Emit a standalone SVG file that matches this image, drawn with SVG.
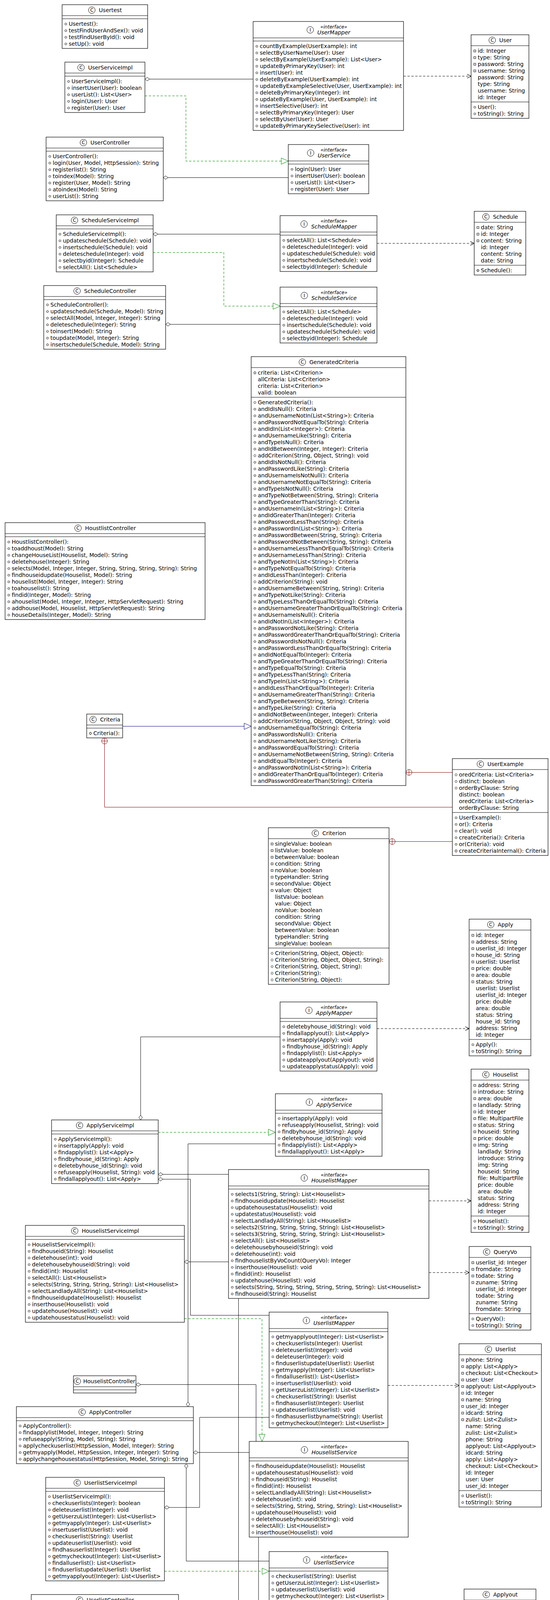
<svg xmlns="http://www.w3.org/2000/svg" width="1408" height="7329" viewBox="0 0 1408 7329">
<style>
text{font-family:"DejaVu Sans",Verdana,sans-serif;font-size:14px;fill:#000}
.b{fill:#fff;stroke:#000;stroke-width:1.2}
.l{stroke:#000;stroke-width:1.2;fill:none}
.ic{fill:#fff;stroke:#000;stroke-width:1}
.il{font-size:12px;text-anchor:middle}
.st{font-size:12px;font-style:italic;text-anchor:middle}
.nm{font-style:italic;text-anchor:middle}
.po{fill:none;stroke:none;marker-start:url(#mo);marker-mid:url(#mo);marker-end:url(#mo)}
.pp{fill:none;stroke:none;marker-start:url(#mp);marker-mid:url(#mp);marker-end:url(#mp)}
.pd{fill:none;stroke:none;marker-start:url(#md);marker-mid:url(#md);marker-end:url(#md)}
.ag{fill:none;stroke:#000;stroke-width:1;marker-start:url(#agg)}
.de{fill:none;stroke:#000;stroke-width:1;stroke-dasharray:6 4;marker-end:url(#dep)}
.re{fill:none;stroke:#008000;stroke-width:1;stroke-dasharray:6 4;marker-end:url(#real)}
.ge{fill:none;stroke:#000080;stroke-width:1;marker-end:url(#gen)}
.ne{fill:none;stroke:#800000;stroke-width:1;marker-start:url(#nest)}
</style>
<defs>
<marker id="mo" markerUnits="userSpaceOnUse" markerWidth="8" markerHeight="8" refX="4" refY="4" overflow="visible"><circle cx="4" cy="4" r="2.5" fill="none" stroke="#000" stroke-width="1"/></marker>
<marker id="mp" markerUnits="userSpaceOnUse" markerWidth="8" markerHeight="8" refX="4" refY="4" overflow="visible"><rect x="1.5" y="1.5" width="5" height="5" fill="none" stroke="#000" stroke-width="1"/></marker>
<marker id="md" markerUnits="userSpaceOnUse" markerWidth="8" markerHeight="8" refX="4" refY="4" overflow="visible"><path d="M4,0.5L7,4L4,7.5L1,4Z" fill="none" stroke="#000" stroke-width="1"/></marker>
<marker id="agg" markerUnits="userSpaceOnUse" markerWidth="14" markerHeight="10" refX="0" refY="5" orient="auto" overflow="visible"><path d="M0,5L6,0.5L12,5L6,9.5Z" fill="#fff" stroke="#000" stroke-width="1"/></marker>
<marker id="dep" markerUnits="userSpaceOnUse" markerWidth="12" markerHeight="12" refX="10" refY="5" orient="auto" overflow="visible"><path d="M0,0L10,5L0,10" fill="none" stroke="#000" stroke-width="1.2"/></marker>
<marker id="real" markerUnits="userSpaceOnUse" markerWidth="20" markerHeight="18" refX="18" refY="8" orient="auto" overflow="visible"><path d="M0,0L18,8L0,16Z" fill="#fff" stroke="#008000" stroke-width="1"/></marker>
<marker id="gen" markerUnits="userSpaceOnUse" markerWidth="20" markerHeight="18" refX="18" refY="8" orient="auto" overflow="visible"><path d="M0,0L18,8L0,16Z" fill="#fff" stroke="#000080" stroke-width="1"/></marker>
<marker id="nest" markerUnits="userSpaceOnUse" markerWidth="18" markerHeight="18" refX="0" refY="8" orient="auto" overflow="visible"><circle cx="8" cy="8" r="7.5" fill="#fff" stroke="#800000" stroke-width="1"/><path d="M0.5,8H15.5M8,0.5V15.5" stroke="#800000" stroke-width="1"/></marker>
</defs>
<rect width="1408" height="7329" fill="#fff"/>
<g id="connectors">
<path class="ag" d="M371,202.5H648"/>
<path class="ag" d="M418,454.7H738"/>
<path class="ag" d="M392,599.4H717"/>
<path class="ag" d="M424,830.3H717"/>
<path class="ag" d="M360,2867V2654.4H717"/>
<path class="ag" d="M405,3006.3H585"/>
<path class="ag" d="M405,3018.8H487.6V3367.2H689"/>
<path class="ag" d="M481.3,3601V2928.2H705"/>
<path class="ag" d="M472,3230.3H585"/>
<path class="ag" d="M348,3544.5H655.5V3690"/>
<path class="ag" d="M393,4298.5H610.6V3324"/>
<path class="ag" d="M421,3859.1H511V3628.4H689"/>
<path class="ag" d="M495,3718.3H638"/>
<path class="ag" d="M476.8,3747V3996.4H689"/>
<path class="ag" d="M495,4654.3H661.8V3935"/>
<path class="ag" d="M457,4132.5H689"/>
<path class="ag" d="M501,5645V4182.7H689"/>
<path class="ag" d="M393,4317H687"/>
<path class="ag" d="M393,4335H579.2V4473.5H711"/>
<path class="ag" d="M393,4372.7H564V4773.5H728"/>
<path class="ag" d="M393,4391.1H529V5307.4H699"/>
<path class="ag" d="M398,4501.3H711"/>
<path class="ag" d="M495,4685.7H717"/>
<path class="ag" d="M495,4725.3H722.9V4913"/>
<path class="ag" d="M495,4733.9H554V5066.2H728"/>
<path class="ag" d="M495,4742.5H505.6V5526.4H699"/>
<path class="ag" d="M381,4834.3H728"/>
<path class="ag" d="M495,4988.2H711"/>
<path class="ag" d="M413,5151.7H728"/>
<path class="ag" d="M411,5352.5H699"/>
<path class="ag" d="M472,5582.5H699"/>
<path class="ag" d="M514.5,5645V5623.3H699"/>
<path class="ag" d="M519,5825.6H723"/>
<path class="ag" d="M519,5851.5H718.4V5978"/>
<path class="ag" d="M517,5919.4H712V5636"/>
<path class="ag" d="M517,5927.2H723"/>
<path class="ag" d="M386,6182.3H535.2V5422.3H699"/>
<path class="ag" d="M386,6233.3H723"/>
<path class="ag" d="M397,6360V6275.2H723"/>
<path class="ag" d="M404,6421.5H707"/>
<path class="ag" d="M404,6789.4H717"/>
<path class="ag" d="M404,6865.4H712V6990"/>
<path class="re" d="M371,245.5H476V412.4H738"/>
<path class="re" d="M392,646.4H573V783.7H717"/>
<path class="re" d="M405,2898.8H705"/>
<path class="re" d="M472,3375.8H670.8V3690"/>
<path class="re" d="M421,4022.3H689"/>
<path class="re" d="M393,4354.2H568.4V4622.9H717"/>
<path class="re" d="M398,4528.4H560.3V4937.2H711"/>
<path class="re" d="M381,4895.2H549.6V5075.2H728"/>
<path class="re" d="M411,5387H485V5554.6H699"/>
<path class="re" d="M386,6186.2H538.8V5935H723"/>
<path class="re" d="M404,6712H544.2V6149.3H705"/>
<path class="re" d="M268.5,6489V6582.3H707"/>
<path class="de" d="M1033,195H1206"/>
<path class="de" d="M965,623H1214"/>
<path class="de" d="M965,2633.3H1201"/>
<path class="de" d="M1098,3074.2H1206"/>
<path class="de" d="M1098,3257.8H1201"/>
<path class="de" d="M993,3546.8H1175"/>
<path class="de" d="M995,4301.3H1188"/>
<path class="de" d="M971,4501.3H1201"/>
<path class="de" d="M954,4815.5H1195"/>
<path class="de" d="M984,5378H1199"/>
<path class="de" d="M959,6205.4H1201"/>
<path class="de" d="M977,6421.1H1201"/>
<path class="de" d="M964,6789.4H1201"/>
<path class="de" d="M977,7053.3H1201"/>
<path class="ge" d="M314,1859.3H643"/>
<path class="ne" d="M267.6,1889V2066.4H1158"/>
<path class="ne" d="M1039,1977.4H1158"/>
<path class="ne" d="M996,2154.3H1158"/>
</g>

<g id="Usertest" transform="translate(159,12)"><rect class="b" width="219" height="112"/><path class="l" d="M0,28H219M0,36H219"/><circle class="ic" cx="76.1" cy="14" r="8.5"/><text class="il" x="76.1" y="18.3">C</text><text x="94.1" y="19">Usertest</text>
<text y="54"><tspan x="17">Usertest():</tspan><tspan x="17" dy="17">testFindUserAndSex(): void</tspan><tspan x="17" dy="17">testFindUserById(): void</tspan><tspan x="17" dy="17">setUp(): void</tspan></text>
<polyline class="po" points="9.5,49.5 9.5,66.5 9.5,83.5 9.5,100.5"/></g>

<g id="UserServiceImpl" transform="translate(166,159)"><rect class="b" width="205" height="129"/><path class="l" d="M0,28H205M0,36H205"/><circle class="ic" cx="41.4" cy="14" r="8.5"/><text class="il" x="41.4" y="18.3">C</text><text x="59.4" y="19">UserServiceImpl</text>
<text y="54"><tspan x="17">UserServiceImpl():</tspan><tspan x="17" dy="17">insertUser(User): boolean</tspan><tspan x="17" dy="17">userList(): List&lt;User&gt;</tspan><tspan x="17" dy="17">login(User): User</tspan><tspan x="17" dy="17">register(User): User</tspan></text>
<polyline class="po" points="9.5,49.5 9.5,66.5 9.5,83.5 9.5,100.5 9.5,117.5"/></g>

<g id="UserMapper" transform="translate(648,55)"><rect class="b" width="385" height="279"/><path class="l" d="M0,42H385M0,50H385"/><circle class="ic" cx="146.2" cy="21.5" r="8.5"/><text class="il" x="146.2" y="25.8">I</text><text class="st" x="206.5" y="17.5">«interface»</text><text class="nm" x="206.5" y="33">UserMapper</text>
<text y="68"><tspan x="17">countByExample(UserExample): int</tspan><tspan x="17" dy="17">selectByUserName(User): User</tspan><tspan x="17" dy="17">selectByExample(UserExample): List&lt;User&gt;</tspan><tspan x="17" dy="17">updateByPrimaryKey(User): int</tspan><tspan x="17" dy="17">insert(User): int</tspan><tspan x="17" dy="17">deleteByExample(UserExample): int</tspan><tspan x="17" dy="17">updateByExampleSelective(User, UserExample): int</tspan><tspan x="17" dy="17">deleteByPrimaryKey(Integer): int</tspan><tspan x="17" dy="17">updateByExample(User, UserExample): int</tspan><tspan x="17" dy="17">insertSelective(User): int</tspan><tspan x="17" dy="17">selectByPrimaryKey(Integer): User</tspan><tspan x="17" dy="17">selectByUser(User): User</tspan><tspan x="17" dy="17">updateByPrimaryKeySelective(User): int</tspan></text>
<polyline class="po" points="9.5,63.5 9.5,80.5 9.5,97.5 9.5,114.5 9.5,131.5 9.5,148.5 9.5,165.5 9.5,182.5 9.5,199.5 9.5,216.5 9.5,233.5 9.5,250.5 9.5,267.5"/></g>

<g id="User" transform="translate(1206,89)"><rect class="b" width="148" height="214"/><path class="l" d="M0,28H148M0,172H148"/><circle class="ic" cx="54.1" cy="14" r="8.5"/><text class="il" x="54.1" y="18.3">C</text><text x="72.1" y="19">User</text>
<text y="46"><tspan x="17">id: Integer</tspan><tspan x="17" dy="17">type: String</tspan><tspan x="17" dy="17">password: String</tspan><tspan x="17" dy="17">username: String</tspan><tspan x="17" dy="17">password: String</tspan><tspan x="17" dy="17">type: String</tspan><tspan x="17" dy="17">username: String</tspan><tspan x="17" dy="17">id: Integer</tspan></text>
<polyline class="pp" points="9.5,41.5 9.5,58.5 9.5,75.5 9.5,92.5"/>
<text y="190"><tspan x="17">User():</tspan><tspan x="17" dy="17">toString(): String</tspan></text>
<polyline class="po" points="9.5,185.5 9.5,202.5"/></g>

<g id="UserController" transform="translate(118,351)"><rect class="b" width="300" height="163"/><path class="l" d="M0,28H300M0,36H300"/><circle class="ic" cx="95.5" cy="14" r="8.5"/><text class="il" x="95.5" y="18.3">C</text><text x="113.5" y="19">UserController</text>
<text y="54"><tspan x="17">UserController():</tspan><tspan x="17" dy="17">login(User, Model, HttpSession): String</tspan><tspan x="17" dy="17">registerlist(): String</tspan><tspan x="17" dy="17">toindex(Model): String</tspan><tspan x="17" dy="17">register(User, Model): String</tspan><tspan x="17" dy="17">atoindex(Model): String</tspan><tspan x="17" dy="17">userList(): String</tspan></text>
<polyline class="po" points="9.5,49.5 9.5,66.5 9.5,83.5 9.5,100.5 9.5,117.5 9.5,134.5 9.5,151.5"/></g>

<g id="UserService" transform="translate(738,370)"><rect class="b" width="206" height="126"/><path class="l" d="M0,42H206M0,50H206"/><circle class="ic" cx="57.2" cy="21.5" r="8.5"/><text class="il" x="57.2" y="25.8">I</text><text class="st" x="117" y="17.5">«interface»</text><text class="nm" x="117" y="33">UserService</text>
<text y="68"><tspan x="17">login(User): User</tspan><tspan x="17" dy="17">insertUser(User): boolean</tspan><tspan x="17" dy="17">userList(): List&lt;User&gt;</tspan><tspan x="17" dy="17">register(User): User</tspan></text>
<polyline class="po" points="9.5,63.5 9.5,80.5 9.5,97.5 9.5,114.5"/></g>

<g id="ScheduleServiceImpl" transform="translate(144,550)"><rect class="b" width="248" height="146"/><path class="l" d="M0,28H248M0,36H248"/><circle class="ic" cx="46.7" cy="14" r="8.5"/><text class="il" x="46.7" y="18.3">C</text><text x="64.7" y="19">ScheduleServiceImpl</text>
<text y="54"><tspan x="17">ScheduleServiceImpl():</tspan><tspan x="17" dy="17">updateschedule(Schedule): void</tspan><tspan x="17" dy="17">insertschedule(Schedule): void</tspan><tspan x="17" dy="17">deleteschedule(Integer): void</tspan><tspan x="17" dy="17">selectbyid(Integer): Schedule</tspan><tspan x="17" dy="17">selectAll(): List&lt;Schedule&gt;</tspan></text>
<polyline class="po" points="9.5,49.5 9.5,66.5 9.5,83.5 9.5,100.5 9.5,117.5 9.5,134.5"/></g>

<g id="ScheduleMapper" transform="translate(717,552)"><rect class="b" width="248" height="143"/><path class="l" d="M0,42H248M0,50H248"/><circle class="ic" cx="61.4" cy="21.5" r="8.5"/><text class="il" x="61.4" y="25.8">I</text><text class="st" x="138" y="17.5">«interface»</text><text class="nm" x="138" y="33">ScheduleMapper</text>
<text y="68"><tspan x="17">selectAll(): List&lt;Schedule&gt;</tspan><tspan x="17" dy="17">deleteschedule(Integer): void</tspan><tspan x="17" dy="17">updateschedule(Schedule): void</tspan><tspan x="17" dy="17">insertschedule(Schedule): void</tspan><tspan x="17" dy="17">selectbyid(Integer): Schedule</tspan></text>
<polyline class="po" points="9.5,63.5 9.5,80.5 9.5,97.5 9.5,114.5 9.5,131.5"/></g>

<g id="Schedule" transform="translate(1214,541)"><rect class="b" width="132" height="163"/><path class="l" d="M0,28H132M0,138H132"/><circle class="ic" cx="29.9" cy="14" r="8.5"/><text class="il" x="29.9" y="18.3">C</text><text x="47.9" y="19">Schedule</text>
<text y="46"><tspan x="17">date: String</tspan><tspan x="17" dy="17">id: Integer</tspan><tspan x="17" dy="17">content: String</tspan><tspan x="17" dy="17">id: Integer</tspan><tspan x="17" dy="17">content: String</tspan><tspan x="17" dy="17">date: String</tspan></text>
<polyline class="pp" points="9.5,41.5 9.5,58.5 9.5,75.5"/>
<text x="17" y="156">Schedule():</text>
<polyline class="po" points="9.5,151.5 9.5,151.5"/></g>

<g id="ScheduleController" transform="translate(112,731)"><rect class="b" width="312" height="163"/><path class="l" d="M0,28H312M0,36H312"/><circle class="ic" cx="85.3" cy="14" r="8.5"/><text class="il" x="85.3" y="18.3">C</text><text x="103.3" y="19">ScheduleController</text>
<text y="54"><tspan x="17">ScheduleController():</tspan><tspan x="17" dy="17">updateschedule(Schedule, Model): String</tspan><tspan x="17" dy="17">selectAll(Model, Integer, Integer): String</tspan><tspan x="17" dy="17">deleteschedule(Integer): String</tspan><tspan x="17" dy="17">toinsert(Model): String</tspan><tspan x="17" dy="17">toupdate(Model, Integer): String</tspan><tspan x="17" dy="17">insertschedule(Schedule, Model): String</tspan></text>
<polyline class="po" points="9.5,49.5 9.5,66.5 9.5,83.5 9.5,100.5 9.5,117.5 9.5,134.5 9.5,151.5"/></g>

<g id="ScheduleService" transform="translate(717,735)"><rect class="b" width="248" height="143"/><path class="l" d="M0,42H248M0,50H248"/><circle class="ic" cx="62" cy="21.5" r="8.5"/><text class="il" x="62" y="25.8">I</text><text class="st" x="138" y="17.5">«interface»</text><text class="nm" x="138" y="33">ScheduleService</text>
<text y="68"><tspan x="17">selectAll(): List&lt;Schedule&gt;</tspan><tspan x="17" dy="17">deleteschedule(Integer): void</tspan><tspan x="17" dy="17">insertschedule(Schedule): void</tspan><tspan x="17" dy="17">updateschedule(Schedule): void</tspan><tspan x="17" dy="17">selectbyid(Integer): Schedule</tspan></text>
<polyline class="po" points="9.5,63.5 9.5,80.5 9.5,97.5 9.5,114.5 9.5,131.5"/></g>

<g id="GeneratedCriteria" transform="translate(643,913)"><rect class="b" width="396" height="1098"/><path class="l" d="M0,28H396M0,104H396"/><circle class="ic" cx="131" cy="14" r="8.5"/><text class="il" x="131" y="18.3">C</text><text x="149" y="19">GeneratedCriteria</text>
<text y="46"><tspan x="17">criteria: List&lt;Criterion&gt;</tspan><tspan x="17" dy="17">allCriteria: List&lt;Criterion&gt;</tspan><tspan x="17" dy="17">criteria: List&lt;Criterion&gt;</tspan><tspan x="17" dy="17">valid: boolean</tspan></text>
<polyline class="pd" points="9.5,41.5 9.5,41.5"/>
<text y="122"><tspan x="17">GeneratedCriteria():</tspan><tspan x="17" dy="17">andIdIsNull(): Criteria</tspan><tspan x="17" dy="17">andUsernameNotIn(List&lt;String&gt;): Criteria</tspan><tspan x="17" dy="17">andPasswordNotEqualTo(String): Criteria</tspan><tspan x="17" dy="17">andIdIn(List&lt;Integer&gt;): Criteria</tspan><tspan x="17" dy="17">andUsernameLike(String): Criteria</tspan><tspan x="17" dy="17">andTypeIsNull(): Criteria</tspan><tspan x="17" dy="17">andIdBetween(Integer, Integer): Criteria</tspan><tspan x="17" dy="17">addCriterion(String, Object, String): void</tspan><tspan x="17" dy="17">andIdIsNotNull(): Criteria</tspan><tspan x="17" dy="17">andPasswordLike(String): Criteria</tspan><tspan x="17" dy="17">andUsernameIsNotNull(): Criteria</tspan><tspan x="17" dy="17">andUsernameNotEqualTo(String): Criteria</tspan><tspan x="17" dy="17">andTypeIsNotNull(): Criteria</tspan><tspan x="17" dy="17">andTypeNotBetween(String, String): Criteria</tspan><tspan x="17" dy="17">andTypeGreaterThan(String): Criteria</tspan><tspan x="17" dy="17">andUsernameIn(List&lt;String&gt;): Criteria</tspan><tspan x="17" dy="17">andIdGreaterThan(Integer): Criteria</tspan><tspan x="17" dy="17">andPasswordLessThan(String): Criteria</tspan><tspan x="17" dy="17">andPasswordIn(List&lt;String&gt;): Criteria</tspan><tspan x="17" dy="17">andPasswordBetween(String, String): Criteria</tspan><tspan x="17" dy="17">andPasswordNotBetween(String, String): Criteria</tspan><tspan x="17" dy="17">andUsernameLessThanOrEqualTo(String): Criteria</tspan><tspan x="17" dy="17">andUsernameLessThan(String): Criteria</tspan><tspan x="17" dy="17">andTypeNotIn(List&lt;String&gt;): Criteria</tspan><tspan x="17" dy="17">andTypeNotEqualTo(String): Criteria</tspan><tspan x="17" dy="17">andIdLessThan(Integer): Criteria</tspan><tspan x="17" dy="17">addCriterion(String): void</tspan><tspan x="17" dy="17">andUsernameBetween(String, String): Criteria</tspan><tspan x="17" dy="17">andTypeNotLike(String): Criteria</tspan><tspan x="17" dy="17">andTypeLessThanOrEqualTo(String): Criteria</tspan><tspan x="17" dy="17">andUsernameGreaterThanOrEqualTo(String): Criteria</tspan><tspan x="17" dy="17">andUsernameIsNull(): Criteria</tspan><tspan x="17" dy="17">andIdNotIn(List&lt;Integer&gt;): Criteria</tspan><tspan x="17" dy="17">andPasswordNotLike(String): Criteria</tspan><tspan x="17" dy="17">andPasswordGreaterThanOrEqualTo(String): Criteria</tspan><tspan x="17" dy="17">andPasswordIsNotNull(): Criteria</tspan><tspan x="17" dy="17">andPasswordLessThanOrEqualTo(String): Criteria</tspan><tspan x="17" dy="17">andIdNotEqualTo(Integer): Criteria</tspan><tspan x="17" dy="17">andTypeGreaterThanOrEqualTo(String): Criteria</tspan><tspan x="17" dy="17">andTypeEqualTo(String): Criteria</tspan><tspan x="17" dy="17">andTypeLessThan(String): Criteria</tspan><tspan x="17" dy="17">andTypeIn(List&lt;String&gt;): Criteria</tspan><tspan x="17" dy="17">andIdLessThanOrEqualTo(Integer): Criteria</tspan><tspan x="17" dy="17">andUsernameGreaterThan(String): Criteria</tspan><tspan x="17" dy="17">andTypeBetween(String, String): Criteria</tspan><tspan x="17" dy="17">andTypeLike(String): Criteria</tspan><tspan x="17" dy="17">andIdNotBetween(Integer, Integer): Criteria</tspan><tspan x="17" dy="17">addCriterion(String, Object, Object, String): void</tspan><tspan x="17" dy="17">andUsernameEqualTo(String): Criteria</tspan><tspan x="17" dy="17">andPasswordIsNull(): Criteria</tspan><tspan x="17" dy="17">andUsernameNotLike(String): Criteria</tspan><tspan x="17" dy="17">andPasswordEqualTo(String): Criteria</tspan><tspan x="17" dy="17">andUsernameNotBetween(String, String): Criteria</tspan><tspan x="17" dy="17">andIdEqualTo(Integer): Criteria</tspan><tspan x="17" dy="17">andPasswordNotIn(List&lt;String&gt;): Criteria</tspan><tspan x="17" dy="17">andIdGreaterThanOrEqualTo(Integer): Criteria</tspan><tspan x="17" dy="17">andPasswordGreaterThan(String): Criteria</tspan></text>
<polyline class="pd" points="9.5,117.5 9.5,253.5 9.5,576.5 9.5,933.5"/>
<polyline class="po" points="9.5,134.5 9.5,151.5 9.5,168.5 9.5,185.5 9.5,202.5 9.5,219.5 9.5,236.5 9.5,270.5 9.5,287.5 9.5,304.5 9.5,321.5 9.5,338.5 9.5,355.5 9.5,372.5 9.5,389.5 9.5,406.5 9.5,423.5 9.5,440.5 9.5,457.5 9.5,474.5 9.5,491.5 9.5,508.5 9.5,525.5 9.5,542.5 9.5,559.5 9.5,593.5 9.5,610.5 9.5,627.5 9.5,644.5 9.5,661.5 9.5,678.5 9.5,695.5 9.5,712.5 9.5,729.5 9.5,746.5 9.5,763.5 9.5,780.5 9.5,797.5 9.5,814.5 9.5,831.5 9.5,848.5 9.5,865.5 9.5,882.5 9.5,899.5 9.5,916.5 9.5,950.5 9.5,967.5 9.5,984.5 9.5,1001.5 9.5,1018.5 9.5,1035.5 9.5,1052.5 9.5,1069.5 9.5,1086.5"/></g>

<g id="HoustlistController" transform="translate(13,1338)"><rect class="b" width="512" height="248"/><path class="l" d="M0,28H512M0,36H512"/><circle class="ic" cx="186.8" cy="14" r="8.5"/><text class="il" x="186.8" y="18.3">C</text><text x="204.8" y="19">HoustlistController</text>
<text y="54"><tspan x="17">HoustlistController():</tspan><tspan x="17" dy="17">toaddhoust(Model): String</tspan><tspan x="17" dy="17">changeHouseList(Houselist, Model): String</tspan><tspan x="17" dy="17">deletehouse(Integer): String</tspan><tspan x="17" dy="17">selects(Model, Integer, Integer, String, String, String, String): String</tspan><tspan x="17" dy="17">findhouseidupdate(Houselist, Model): String</tspan><tspan x="17" dy="17">houselist(Model, Integer, Integer): String</tspan><tspan x="17" dy="17">toahouselist(): String</tspan><tspan x="17" dy="17">findid(Integer, Model): String</tspan><tspan x="17" dy="17">ahouselist(Model, Integer, Integer, HttpServletRequest): String</tspan><tspan x="17" dy="17">addhouse(Model, Houselist, HttpServletRequest): String</tspan><tspan x="17" dy="17">houseDetails(Integer, Model): String</tspan></text>
<polyline class="po" points="9.5,49.5 9.5,66.5 9.5,83.5 9.5,100.5 9.5,117.5 9.5,134.5 9.5,151.5 9.5,168.5 9.5,185.5 9.5,202.5 9.5,219.5 9.5,236.5"/></g>

<g id="Criteria" transform="translate(222,1828)"><rect class="b" width="92" height="61"/><path class="l" d="M0,28H92M0,36H92"/><circle class="ic" cx="16.2" cy="14" r="8.5"/><text class="il" x="16.2" y="18.3">C</text><text x="34.2" y="19">Criteria</text>
<text x="17" y="54">Criteria():</text>
<polyline class="pd" points="9.5,49.5 9.5,49.5"/></g>

<g id="UserExample" transform="translate(1158,1942)"><rect class="b" width="245" height="248"/><path class="l" d="M0,28H245M0,138H245"/><circle class="ic" cx="71.7" cy="14" r="8.5"/><text class="il" x="71.7" y="18.3">C</text><text x="89.7" y="19">UserExample</text>
<text y="46"><tspan x="17">oredCriteria: List&lt;Criteria&gt;</tspan><tspan x="17" dy="17">distinct: boolean</tspan><tspan x="17" dy="17">orderByClause: String</tspan><tspan x="17" dy="17">distinct: boolean</tspan><tspan x="17" dy="17">oredCriteria: List&lt;Criteria&gt;</tspan><tspan x="17" dy="17">orderByClause: String</tspan></text>
<polyline class="pd" points="9.5,41.5 9.5,58.5 9.5,75.5"/>
<text y="156"><tspan x="17">UserExample():</tspan><tspan x="17" dy="17">or(): Criteria</tspan><tspan x="17" dy="17">clear(): void</tspan><tspan x="17" dy="17">createCriteria(): Criteria</tspan><tspan x="17" dy="17">or(Criteria): void</tspan><tspan x="17" dy="17">createCriteriaInternal(): Criteria</tspan></text>
<polyline class="po" points="9.5,151.5 9.5,168.5 9.5,185.5 9.5,202.5 9.5,219.5"/>
<polyline class="pd" points="9.5,236.5 9.5,236.5"/></g>

<g id="Criterion" transform="translate(687,2119)"><rect class="b" width="309" height="401"/><path class="l" d="M0,28H309M0,308H309"/><circle class="ic" cx="120.2" cy="14" r="8.5"/><text class="il" x="120.2" y="18.3">C</text><text x="138.2" y="19">Criterion</text>
<text y="46"><tspan x="17">singleValue: boolean</tspan><tspan x="17" dy="17">listValue: boolean</tspan><tspan x="17" dy="17">betweenValue: boolean</tspan><tspan x="17" dy="17">condition: String</tspan><tspan x="17" dy="17">noValue: boolean</tspan><tspan x="17" dy="17">typeHandler: String</tspan><tspan x="17" dy="17">secondValue: Object</tspan><tspan x="17" dy="17">value: Object</tspan><tspan x="17" dy="17">listValue: boolean</tspan><tspan x="17" dy="17">value: Object</tspan><tspan x="17" dy="17">noValue: boolean</tspan><tspan x="17" dy="17">condition: String</tspan><tspan x="17" dy="17">secondValue: Object</tspan><tspan x="17" dy="17">betweenValue: boolean</tspan><tspan x="17" dy="17">typeHandler: String</tspan><tspan x="17" dy="17">singleValue: boolean</tspan></text>
<polyline class="pp" points="9.5,41.5 9.5,58.5 9.5,75.5 9.5,92.5 9.5,109.5 9.5,126.5 9.5,143.5 9.5,160.5"/>
<text y="326"><tspan x="17">Criterion(String, Object, Object):</tspan><tspan x="17" dy="17">Criterion(String, Object, Object, String):</tspan><tspan x="17" dy="17">Criterion(String, Object, String):</tspan><tspan x="17" dy="17">Criterion(String):</tspan><tspan x="17" dy="17">Criterion(String, Object):</tspan></text>
<polyline class="pd" points="9.5,321.5 9.5,338.5 9.5,355.5 9.5,372.5 9.5,389.5"/></g>

<g id="Apply" transform="translate(1201,2353)"><rect class="b" width="158" height="350"/><path class="l" d="M0,28H158M0,308H158"/><circle class="ic" cx="55.3" cy="14" r="8.5"/><text class="il" x="55.3" y="18.3">C</text><text x="73.3" y="19">Apply</text>
<text y="46"><tspan x="17">id: Integer</tspan><tspan x="17" dy="17">address: String</tspan><tspan x="17" dy="17">userlist_id: Integer</tspan><tspan x="17" dy="17">house_id: String</tspan><tspan x="17" dy="17">userlist: Userlist</tspan><tspan x="17" dy="17">price: double</tspan><tspan x="17" dy="17">area: double</tspan><tspan x="17" dy="17">status: String</tspan><tspan x="17" dy="17">userlist: Userlist</tspan><tspan x="17" dy="17">userlist_id: Integer</tspan><tspan x="17" dy="17">price: double</tspan><tspan x="17" dy="17">area: double</tspan><tspan x="17" dy="17">status: String</tspan><tspan x="17" dy="17">house_id: String</tspan><tspan x="17" dy="17">address: String</tspan><tspan x="17" dy="17">id: Integer</tspan></text>
<polyline class="pp" points="9.5,41.5 9.5,58.5 9.5,75.5 9.5,92.5 9.5,109.5 9.5,126.5 9.5,143.5 9.5,160.5"/>
<text y="326"><tspan x="17">Apply():</tspan><tspan x="17" dy="17">toString(): String</tspan></text>
<polyline class="po" points="9.5,321.5 9.5,338.5"/></g>

<g id="ApplyMapper" transform="translate(717,2565)"><rect class="b" width="248" height="177"/><path class="l" d="M0,42H248M0,50H248"/><circle class="ic" cx="73.9" cy="21.5" r="8.5"/><text class="il" x="73.9" y="25.8">I</text><text class="st" x="138" y="17.5">«interface»</text><text class="nm" x="138" y="33">ApplyMapper</text>
<text y="68"><tspan x="17">deletebyhouse_id(String): void</tspan><tspan x="17" dy="17">findallapplyout(): List&lt;Apply&gt;</tspan><tspan x="17" dy="17">insertapply(Apply): void</tspan><tspan x="17" dy="17">findbyhouse_id(String): Apply</tspan><tspan x="17" dy="17">findapplylist(): List&lt;Apply&gt;</tspan><tspan x="17" dy="17">updateapplyout(Applyout): void</tspan><tspan x="17" dy="17">updateapplystatus(Apply): void</tspan></text>
<polyline class="po" points="9.5,63.5 9.5,80.5 9.5,97.5 9.5,114.5 9.5,131.5 9.5,148.5 9.5,165.5"/></g>

<g id="ApplyService" transform="translate(705,2800)"><rect class="b" width="273" height="160"/><path class="l" d="M0,42H273M0,50H273"/><circle class="ic" cx="86.9" cy="21.5" r="8.5"/><text class="il" x="86.9" y="25.8">I</text><text class="st" x="150.5" y="17.5">«interface»</text><text class="nm" x="150.5" y="33">ApplyService</text>
<text y="68"><tspan x="17">insertapply(Apply): void</tspan><tspan x="17" dy="17">refuseapply(Houselist, String): void</tspan><tspan x="17" dy="17">findbyhouse_id(String): Apply</tspan><tspan x="17" dy="17">deletebyhouse_id(String): void</tspan><tspan x="17" dy="17">findapplylist(): List&lt;Apply&gt;</tspan><tspan x="17" dy="17">findallapplyout(): List&lt;Apply&gt;</tspan></text>
<polyline class="po" points="9.5,63.5 9.5,80.5 9.5,97.5 9.5,114.5 9.5,131.5 9.5,148.5"/></g>

<g id="ApplyServiceImpl" transform="translate(132,2867)"><rect class="b" width="273" height="163"/><path class="l" d="M0,28H273M0,36H273"/><circle class="ic" cx="71.6" cy="14" r="8.5"/><text class="il" x="71.6" y="18.3">C</text><text x="89.6" y="19">ApplyServiceImpl</text>
<text y="54"><tspan x="17">ApplyServiceImpl():</tspan><tspan x="17" dy="17">insertapply(Apply): void</tspan><tspan x="17" dy="17">findapplylist(): List&lt;Apply&gt;</tspan><tspan x="17" dy="17">findbyhouse_id(String): Apply</tspan><tspan x="17" dy="17">deletebyhouse_id(String): void</tspan><tspan x="17" dy="17">refuseapply(Houselist, String): void</tspan><tspan x="17" dy="17">findallapplyout(): List&lt;Apply&gt;</tspan></text>
<polyline class="po" points="9.5,49.5 9.5,66.5 9.5,83.5 9.5,100.5 9.5,117.5 9.5,134.5 9.5,151.5"/></g>

<g id="HouselistMapper" transform="translate(585,2994)"><rect class="b" width="513" height="330"/><path class="l" d="M0,42H513M0,50H513"/><circle class="ic" cx="193.9" cy="21.5" r="8.5"/><text class="il" x="193.9" y="25.8">I</text><text class="st" x="270.5" y="17.5">«interface»</text><text class="nm" x="270.5" y="33">HouselistMapper</text>
<text y="68"><tspan x="17">selects1(String, String): List&lt;Houselist&gt;</tspan><tspan x="17" dy="17">findhouseidupdate(Houselist): Houselist</tspan><tspan x="17" dy="17">updatehousestatus(Houselist): void</tspan><tspan x="17" dy="17">updatestatus(Houselist): void</tspan><tspan x="17" dy="17">selectLandladyAll(String): List&lt;Houselist&gt;</tspan><tspan x="17" dy="17">selects2(String, String, String, String): List&lt;Houselist&gt;</tspan><tspan x="17" dy="17">selects3(String, String, String, String): List&lt;Houselist&gt;</tspan><tspan x="17" dy="17">selectAll(): List&lt;Houselist&gt;</tspan><tspan x="17" dy="17">deletehousebyhouseid(String): void</tspan><tspan x="17" dy="17">deletehouse(int): void</tspan><tspan x="17" dy="17">findhouselistByVoCount(QueryVo): Integer</tspan><tspan x="17" dy="17">inserthouse(Houselist): void</tspan><tspan x="17" dy="17">findid(int): Houselist</tspan><tspan x="17" dy="17">updatehouse(Houselist): void</tspan><tspan x="17" dy="17">selects(String, String, String, String, String, String): List&lt;Houselist&gt;</tspan><tspan x="17" dy="17">findhouseid(String): Houselist</tspan></text>
<polyline class="po" points="9.5,63.5 9.5,80.5 9.5,97.5 9.5,114.5 9.5,131.5 9.5,148.5 9.5,165.5 9.5,182.5 9.5,199.5 9.5,216.5 9.5,233.5 9.5,250.5 9.5,267.5 9.5,284.5 9.5,301.5 9.5,318.5"/></g>

<g id="Houselist" transform="translate(1206,2737)"><rect class="b" width="148" height="418"/><path class="l" d="M0,28H148M0,376H148"/><circle class="ic" cx="37.8" cy="14" r="8.5"/><text class="il" x="37.8" y="18.3">C</text><text x="55.8" y="19">Houselist</text>
<text y="46"><tspan x="17">address: String</tspan><tspan x="17" dy="17">introduce: String</tspan><tspan x="17" dy="17">area: double</tspan><tspan x="17" dy="17">landlady: String</tspan><tspan x="17" dy="17">id: Integer</tspan><tspan x="17" dy="17">file: MultipartFile</tspan><tspan x="17" dy="17">status: String</tspan><tspan x="17" dy="17">houseid: String</tspan><tspan x="17" dy="17">price: double</tspan><tspan x="17" dy="17">img: String</tspan><tspan x="17" dy="17">landlady: String</tspan><tspan x="17" dy="17">introduce: String</tspan><tspan x="17" dy="17">img: String</tspan><tspan x="17" dy="17">houseid: String</tspan><tspan x="17" dy="17">file: MultipartFile</tspan><tspan x="17" dy="17">price: double</tspan><tspan x="17" dy="17">area: double</tspan><tspan x="17" dy="17">status: String</tspan><tspan x="17" dy="17">address: String</tspan><tspan x="17" dy="17">id: Integer</tspan></text>
<polyline class="pp" points="9.5,41.5 9.5,58.5 9.5,75.5 9.5,92.5 9.5,109.5 9.5,126.5 9.5,143.5 9.5,160.5 9.5,177.5 9.5,194.5"/>
<text y="394"><tspan x="17">Houselist():</tspan><tspan x="17" dy="17">toString(): String</tspan></text>
<polyline class="po" points="9.5,389.5 9.5,406.5"/></g>

<g id="QueryVo" transform="translate(1201,3191)"><rect class="b" width="158" height="214"/><path class="l" d="M0,28H158M0,172H158"/><circle class="ic" cx="44.7" cy="14" r="8.5"/><text class="il" x="44.7" y="18.3">C</text><text x="62.7" y="19">QueryVo</text>
<text y="46"><tspan x="17">userlist_id: Integer</tspan><tspan x="17" dy="17">fromdate: String</tspan><tspan x="17" dy="17">todate: String</tspan><tspan x="17" dy="17">zuname: String</tspan><tspan x="17" dy="17">userlist_id: Integer</tspan><tspan x="17" dy="17">todate: String</tspan><tspan x="17" dy="17">zuname: String</tspan><tspan x="17" dy="17">fromdate: String</tspan></text>
<polyline class="pp" points="9.5,41.5 9.5,58.5 9.5,75.5 9.5,92.5"/>
<text y="190"><tspan x="17">QueryVo():</tspan><tspan x="17" dy="17">toString(): String</tspan></text>
<polyline class="po" points="9.5,185.5 9.5,202.5"/></g>

<g id="HouselistServiceImpl" transform="translate(65,3137)"><rect class="b" width="407" height="248"/><path class="l" d="M0,28H407M0,36H407"/><circle class="ic" cx="126.2" cy="14" r="8.5"/><text class="il" x="126.2" y="18.3">C</text><text x="144.2" y="19">HouselistServiceImpl</text>
<text y="54"><tspan x="17">HouselistServiceImpl():</tspan><tspan x="17" dy="17">findhouseid(String): Houselist</tspan><tspan x="17" dy="17">deletehouse(int): void</tspan><tspan x="17" dy="17">deletehousebyhouseid(String): void</tspan><tspan x="17" dy="17">findid(int): Houselist</tspan><tspan x="17" dy="17">selectAll(): List&lt;Houselist&gt;</tspan><tspan x="17" dy="17">selects(String, String, String, String): List&lt;Houselist&gt;</tspan><tspan x="17" dy="17">selectLandladyAll(String): List&lt;Houselist&gt;</tspan><tspan x="17" dy="17">findhouseidupdate(Houselist): Houselist</tspan><tspan x="17" dy="17">inserthouse(Houselist): void</tspan><tspan x="17" dy="17">updatehouse(Houselist): void</tspan><tspan x="17" dy="17">updatehousestatus(Houselist): void</tspan></text>
<polyline class="po" points="9.5,49.5 9.5,66.5 9.5,83.5 9.5,100.5 9.5,117.5 9.5,134.5 9.5,151.5 9.5,168.5 9.5,185.5 9.5,202.5 9.5,219.5 9.5,236.5"/></g>

<g id="HouselistController" transform="translate(188,3522)"><rect class="b" width="160" height="44"/><path class="l" d="M0,28H160M0,36H160"/><circle class="ic" cx="10" cy="14" r="8.5"/><text class="il" x="10" y="18.3">C</text><text x="25" y="19">HouselistController</text></g>

<g id="UserlistMapper" transform="translate(689,3359)"><rect class="b" width="304" height="296"/><path class="l" d="M0,42H304M0,50H304"/><circle class="ic" cx="95.4" cy="21.5" r="8.5"/><text class="il" x="95.4" y="25.8">I</text><text class="st" x="166" y="17.5">«interface»</text><text class="nm" x="166" y="33">UserlistMapper</text>
<text y="68"><tspan x="17">getmyapplyout(Integer): List&lt;Userlist&gt;</tspan><tspan x="17" dy="17">checkuserlists(Integer): Userlist</tspan><tspan x="17" dy="17">deleteuserlist(Integer): void</tspan><tspan x="17" dy="17">deleteuser(Integer): void</tspan><tspan x="17" dy="17">finduserlistupdate(Userlist): Userlist</tspan><tspan x="17" dy="17">getmyapply(Integer): List&lt;Userlist&gt;</tspan><tspan x="17" dy="17">findalluserlist(): List&lt;Userlist&gt;</tspan><tspan x="17" dy="17">insertuserlist(Userlist): void</tspan><tspan x="17" dy="17">getUserzuList(Integer): List&lt;Userlist&gt;</tspan><tspan x="17" dy="17">checkuserlist(String): Userlist</tspan><tspan x="17" dy="17">findhasuserlist(Integer): Userlist</tspan><tspan x="17" dy="17">updateuserlist(Userlist): void</tspan><tspan x="17" dy="17">findhasuserlistbyname(String): Userlist</tspan><tspan x="17" dy="17">getmycheckout(Integer): List&lt;Userlist&gt;</tspan></text>
<polyline class="po" points="9.5,63.5 9.5,80.5 9.5,97.5 9.5,114.5 9.5,131.5 9.5,148.5 9.5,165.5 9.5,182.5 9.5,199.5 9.5,216.5 9.5,233.5 9.5,250.5 9.5,267.5 9.5,284.5"/></g>

<g id="Userlist" transform="translate(1175,3440)"><rect class="b" width="211" height="418"/><path class="l" d="M0,28H211M0,376H211"/><circle class="ic" cx="75.3" cy="14" r="8.5"/><text class="il" x="75.3" y="18.3">C</text><text x="93.3" y="19">Userlist</text>
<text y="46"><tspan x="17">phone: String</tspan><tspan x="17" dy="17">apply: List&lt;Apply&gt;</tspan><tspan x="17" dy="17">checkout: List&lt;Checkout&gt;</tspan><tspan x="17" dy="17">user: User</tspan><tspan x="17" dy="17">applyout: List&lt;Applyout&gt;</tspan><tspan x="17" dy="17">id: Integer</tspan><tspan x="17" dy="17">name: String</tspan><tspan x="17" dy="17">user_id: Integer</tspan><tspan x="17" dy="17">idcard: String</tspan><tspan x="17" dy="17">zulist: List&lt;Zulist&gt;</tspan><tspan x="17" dy="17">name: String</tspan><tspan x="17" dy="17">zulist: List&lt;Zulist&gt;</tspan><tspan x="17" dy="17">phone: String</tspan><tspan x="17" dy="17">applyout: List&lt;Applyout&gt;</tspan><tspan x="17" dy="17">idcard: String</tspan><tspan x="17" dy="17">apply: List&lt;Apply&gt;</tspan><tspan x="17" dy="17">checkout: List&lt;Checkout&gt;</tspan><tspan x="17" dy="17">id: Integer</tspan><tspan x="17" dy="17">user: User</tspan><tspan x="17" dy="17">user_id: Integer</tspan></text>
<polyline class="pp" points="9.5,41.5 9.5,58.5 9.5,75.5 9.5,92.5 9.5,109.5 9.5,126.5 9.5,143.5 9.5,160.5 9.5,177.5 9.5,194.5"/>
<text y="394"><tspan x="17">Userlist():</tspan><tspan x="17" dy="17">toString(): String</tspan></text>
<polyline class="po" points="9.5,389.5 9.5,406.5"/></g>

<g id="ApplyController" transform="translate(42,3601)"><rect class="b" width="453" height="146"/><path class="l" d="M0,28H453M0,36H453"/><circle class="ic" cx="168.2" cy="14" r="8.5"/><text class="il" x="168.2" y="18.3">C</text><text x="186.2" y="19">ApplyController</text>
<text y="54"><tspan x="17">ApplyController():</tspan><tspan x="17" dy="17">findapplylist(Model, Integer, Integer): String</tspan><tspan x="17" dy="17">refuseapply(String, Model, String): String</tspan><tspan x="17" dy="17">applycheckuserlist(HttpSession, Model, Integer): String</tspan><tspan x="17" dy="17">getmyapply(Model, HttpSession, Integer, Integer): String</tspan><tspan x="17" dy="17">applychangehousestatus(HttpSession, Model, String): String</tspan></text>
<polyline class="po" points="9.5,49.5 9.5,66.5 9.5,83.5 9.5,100.5 9.5,117.5 9.5,134.5"/></g>

<g id="HouselistService" transform="translate(638,3690)"><rect class="b" width="407" height="245"/><path class="l" d="M0,42H407M0,50H407"/><circle class="ic" cx="141.4" cy="21.5" r="8.5"/><text class="il" x="141.4" y="25.8">I</text><text class="st" x="217.5" y="17.5">«interface»</text><text class="nm" x="217.5" y="33">HouselistService</text>
<text y="68"><tspan x="17">findhouseidupdate(Houselist): Houselist</tspan><tspan x="17" dy="17">updatehousestatus(Houselist): void</tspan><tspan x="17" dy="17">findhouseid(String): Houselist</tspan><tspan x="17" dy="17">findid(int): Houselist</tspan><tspan x="17" dy="17">selectLandladyAll(String): List&lt;Houselist&gt;</tspan><tspan x="17" dy="17">deletehouse(int): void</tspan><tspan x="17" dy="17">selects(String, String, String, String): List&lt;Houselist&gt;</tspan><tspan x="17" dy="17">updatehouse(Houselist): void</tspan><tspan x="17" dy="17">deletehousebyhouseid(String): void</tspan><tspan x="17" dy="17">selectAll(): List&lt;Houselist&gt;</tspan><tspan x="17" dy="17">inserthouse(Houselist): void</tspan></text>
<polyline class="po" points="9.5,63.5 9.5,80.5 9.5,97.5 9.5,114.5 9.5,131.5 9.5,148.5 9.5,165.5 9.5,182.5 9.5,199.5 9.5,216.5 9.5,233.5"/></g>

<g id="UserlistServiceImpl" transform="translate(117,3782)"><rect class="b" width="304" height="265"/><path class="l" d="M0,28H304M0,36H304"/><circle class="ic" cx="80.6" cy="14" r="8.5"/><text class="il" x="80.6" y="18.3">C</text><text x="98.6" y="19">UserlistServiceImpl</text>
<text y="54"><tspan x="17">UserlistServiceImpl():</tspan><tspan x="17" dy="17">checkuserlists(Integer): boolean</tspan><tspan x="17" dy="17">deleteuserlist(Integer): void</tspan><tspan x="17" dy="17">getUserzuList(Integer): List&lt;Userlist&gt;</tspan><tspan x="17" dy="17">getmyapply(Integer): List&lt;Userlist&gt;</tspan><tspan x="17" dy="17">insertuserlist(Userlist): void</tspan><tspan x="17" dy="17">checkuserlist(String): Userlist</tspan><tspan x="17" dy="17">updateuserlist(Userlist): void</tspan><tspan x="17" dy="17">findhasuserlist(Integer): Userlist</tspan><tspan x="17" dy="17">getmycheckout(Integer): List&lt;Userlist&gt;</tspan><tspan x="17" dy="17">findalluserlist(): List&lt;Userlist&gt;</tspan><tspan x="17" dy="17">finduserlistupdate(Userlist): Userlist</tspan><tspan x="17" dy="17">getmyapplyout(Integer): List&lt;Userlist&gt;</tspan></text>
<polyline class="po" points="9.5,49.5 9.5,66.5 9.5,83.5 9.5,100.5 9.5,117.5 9.5,134.5 9.5,151.5 9.5,168.5 9.5,185.5 9.5,202.5 9.5,219.5 9.5,236.5 9.5,253.5"/></g>

<g id="UserlistService" transform="translate(689,3972)"><rect class="b" width="304" height="262"/><path class="l" d="M0,42H304M0,50H304"/><circle class="ic" cx="95.9" cy="21.5" r="8.5"/><text class="il" x="95.9" y="25.8">I</text><text class="st" x="166" y="17.5">«interface»</text><text class="nm" x="166" y="33">UserlistService</text>
<text y="68"><tspan x="17">checkuserlist(String): Userlist</tspan><tspan x="17" dy="17">getUserzuList(Integer): List&lt;Userlist&gt;</tspan><tspan x="17" dy="17">updateuserlist(Userlist): void</tspan><tspan x="17" dy="17">getmycheckout(Integer): List&lt;Userlist&gt;</tspan><tspan x="17" dy="17">getmyapply(Integer): List&lt;Userlist&gt;</tspan><tspan x="17" dy="17">findalluserlist(): List&lt;Userlist&gt;</tspan><tspan x="17" dy="17">finduserlistupdate(Userlist): Userlist</tspan><tspan x="17" dy="17">getmyapplyout(Integer): List&lt;Userlist&gt;</tspan><tspan x="17" dy="17">insertuserlist(Userlist): void</tspan><tspan x="17" dy="17">deleteuserlist(Integer): void</tspan><tspan x="17" dy="17">findhasuserlist(Integer): Userlist</tspan><tspan x="17" dy="17">checkuserlists(Integer): boolean</tspan></text>
<polyline class="po" points="9.5,63.5 9.5,80.5 9.5,97.5 9.5,114.5 9.5,131.5 9.5,148.5 9.5,165.5 9.5,182.5 9.5,199.5 9.5,216.5 9.5,233.5 9.5,250.5"/></g>

<g id="UserlistController" transform="translate(80,4082)"><rect class="b" width="377" height="163"/><path class="l" d="M0,28H377M0,36H377"/><circle class="ic" cx="123.7" cy="14" r="8.5"/><text class="il" x="123.7" y="18.3">C</text><text x="141.7" y="19">UserlistController</text>
<text y="54"><tspan x="17">UserlistController():</tspan><tspan x="17" dy="17">deleteuserlist(Model, Integer): String</tspan><tspan x="17" dy="17">afindhasuserlist(HttpSession, Model): String</tspan><tspan x="17" dy="17">checkuserlist(Model, Userlist, HttpSession): String</tspan><tspan x="17" dy="17">findhasuserlist(HttpSession, Model): String</tspan><tspan x="17" dy="17">checkuserlists(HttpServletRequest, Model): String</tspan><tspan x="17" dy="17">findalluserlist(Model, Integer, Integer): String</tspan></text>
<polyline class="po" points="9.5,49.5 9.5,66.5 9.5,83.5 9.5,100.5 9.5,117.5 9.5,134.5 9.5,151.5"/></g>

<g id="Applyout" transform="translate(1188,4068)"><rect class="b" width="184" height="265"/><path class="l" d="M0,28H184M0,240H184"/><circle class="ic" cx="56.8" cy="14" r="8.5"/><text class="il" x="56.8" y="18.3">C</text><text x="74.8" y="19">Applyout</text>
<text y="46"><tspan x="17">id: Integer</tspan><tspan x="17" dy="17">house_id: String</tspan><tspan x="17" dy="17">address: String</tspan><tspan x="17" dy="17">userlist_id: Integer</tspan><tspan x="17" dy="17">status: String</tspan><tspan x="17" dy="17">userlist: List&lt;Userlist&gt;</tspan><tspan x="17" dy="17">status: String</tspan><tspan x="17" dy="17">house_id: String</tspan><tspan x="17" dy="17">address: String</tspan><tspan x="17" dy="17">id: Integer</tspan><tspan x="17" dy="17">userlist_id: Integer</tspan><tspan x="17" dy="17">userlist: List&lt;Userlist&gt;</tspan></text>
<polyline class="pp" points="9.5,41.5 9.5,58.5 9.5,75.5 9.5,92.5 9.5,109.5 9.5,126.5"/>
<text x="17" y="258">Applyout():</text>
<polyline class="po" points="9.5,253.5 9.5,253.5"/></g>

<g id="ApplyoutMapper" transform="translate(687,4268)"><rect class="b" width="308" height="143"/><path class="l" d="M0,42H308M0,50H308"/><circle class="ic" cx="92.4" cy="21.5" r="8.5"/><text class="il" x="92.4" y="25.8">I</text><text class="st" x="168" y="17.5">«interface»</text><text class="nm" x="168" y="33">ApplyoutMapper</text>
<text y="68"><tspan x="17">insertapplyout(Applyout): void</tspan><tspan x="17" dy="17">updateapplyout(Applyout): void</tspan><tspan x="17" dy="17">updateapplyoutbyhouse(Applyout): void</tspan><tspan x="17" dy="17">deleteapplyout(Integer): void</tspan><tspan x="17" dy="17">findbyid(Integer): Applyout</tspan></text>
<polyline class="po" points="9.5,63.5 9.5,80.5 9.5,97.5 9.5,114.5 9.5,131.5"/></g>

<g id="ApplyoutServiceImpl" transform="translate(144,4280)"><rect class="b" width="249" height="129"/><path class="l" d="M0,28H249M0,36H249"/><circle class="ic" cx="48.1" cy="14" r="8.5"/><text class="il" x="48.1" y="18.3">C</text><text x="66.1" y="19">ApplyoutServiceImpl</text>
<text y="54"><tspan x="17">ApplyoutServiceImpl():</tspan><tspan x="17" dy="17">deleteapplyout(Integer): void</tspan><tspan x="17" dy="17">insertapplyout(Zulist): void</tspan><tspan x="17" dy="17">updateapplyout(Applyout): void</tspan><tspan x="17" dy="17">agreeapplyout(Integer): void</tspan></text>
<polyline class="po" points="9.5,49.5 9.5,66.5 9.5,83.5 9.5,100.5 9.5,117.5"/></g>

<g id="CheckoutServiceImpl" transform="translate(139,4445)"><rect class="b" width="259" height="112"/><path class="l" d="M0,28H259M0,36H259"/><circle class="ic" cx="51.4" cy="14" r="8.5"/><text class="il" x="51.4" y="18.3">C</text><text x="69.4" y="19">CheckoutServiceImpl</text>
<text y="54"><tspan x="17">CheckoutServiceImpl():</tspan><tspan x="17" dy="17">insertcheckout(Checkout): void</tspan><tspan x="17" dy="17">deletecheckout(Integer): void</tspan><tspan x="17" dy="17">getallcheckout(): List&lt;Checkout&gt;</tspan></text>
<polyline class="po" points="9.5,49.5 9.5,66.5 9.5,83.5 9.5,100.5"/></g>

<g id="CheckoutMapper" transform="translate(711,4446)"><rect class="b" width="260" height="109"/><path class="l" d="M0,42H260M0,50H260"/><circle class="ic" cx="66.6" cy="21.5" r="8.5"/><text class="il" x="66.6" y="25.8">I</text><text class="st" x="144" y="17.5">«interface»</text><text class="nm" x="144" y="33">CheckoutMapper</text>
<text y="68"><tspan x="17">deletecheckout(Integer): void</tspan><tspan x="17" dy="17">getallcheckout(): List&lt;Checkout&gt;</tspan><tspan x="17" dy="17">insertcheckout(Checkout): void</tspan></text>
<polyline class="po" points="9.5,63.5 9.5,80.5 9.5,97.5"/></g>

<g id="Checkout" transform="translate(1201,4368)"><rect class="b" width="158" height="265"/><path class="l" d="M0,28H158M0,240H158"/><circle class="ic" cx="42" cy="14" r="8.5"/><text class="il" x="42" y="18.3">C</text><text x="60" y="19">Checkout</text>
<text y="46"><tspan x="17">userlist_id: Integer</tspan><tspan x="17" dy="17">userlist: Userlist</tspan><tspan x="17" dy="17">house_id: String</tspan><tspan x="17" dy="17">address: String</tspan><tspan x="17" dy="17">id: Integer</tspan><tspan x="17" dy="17">status: String</tspan><tspan x="17" dy="17">status: String</tspan><tspan x="17" dy="17">userlist: Userlist</tspan><tspan x="17" dy="17">house_id: String</tspan><tspan x="17" dy="17">address: String</tspan><tspan x="17" dy="17">id: Integer</tspan><tspan x="17" dy="17">userlist_id: Integer</tspan></text>
<polyline class="pp" points="9.5,41.5 9.5,58.5 9.5,75.5 9.5,92.5 9.5,109.5 9.5,126.5"/>
<text x="17" y="258">Checkout():</text>
<polyline class="po" points="9.5,253.5 9.5,253.5"/></g>

<g id="ApplyoutController" transform="translate(42,4592)"><rect class="b" width="453" height="163"/><path class="l" d="M0,28H453M0,36H453"/><circle class="ic" cx="156.7" cy="14" r="8.5"/><text class="il" x="156.7" y="18.3">C</text><text x="174.7" y="19">ApplyoutController</text>
<text y="54"><tspan x="17">ApplyoutController():</tspan><tspan x="17" dy="17">refuseapplyout(Model, Integer): String</tspan><tspan x="17" dy="17">findallapplyout(Model, Integer, Integer): String</tspan><tspan x="17" dy="17">deleteapplyout(Model, Integer): String</tspan><tspan x="17" dy="17">agreeapplyout(Model, Integer): String</tspan><tspan x="17" dy="17">insertapplyout(String, Model): String</tspan><tspan x="17" dy="17">getmyapplyout(Model, HttpSession, Integer, Integer): String</tspan></text>
<polyline class="po" points="9.5,49.5 9.5,66.5 9.5,83.5 9.5,100.5 9.5,117.5 9.5,134.5 9.5,151.5"/></g>

<g id="ApplyoutService" transform="translate(717,4591)"><rect class="b" width="248" height="126"/><path class="l" d="M0,42H248M0,50H248"/><circle class="ic" cx="62.9" cy="21.5" r="8.5"/><text class="il" x="62.9" y="25.8">I</text><text class="st" x="138" y="17.5">«interface»</text><text class="nm" x="138" y="33">ApplyoutService</text>
<text y="68"><tspan x="17">deleteapplyout(Integer): void</tspan><tspan x="17" dy="17">updateapplyout(Applyout): void</tspan><tspan x="17" dy="17">agreeapplyout(Integer): void</tspan><tspan x="17" dy="17">insertapplyout(Zulist): void</tspan></text>
<polyline class="po" points="9.5,63.5 9.5,80.5 9.5,97.5 9.5,114.5"/></g>

<g id="HetongMapper" transform="translate(728,4752)"><rect class="b" width="226" height="126"/><path class="l" d="M0,42H226M0,50H226"/><circle class="ic" cx="57.1" cy="21.5" r="8.5"/><text class="il" x="57.1" y="25.8">I</text><text class="st" x="127" y="17.5">«interface»</text><text class="nm" x="127" y="33">HetongMapper</text>
<text y="68"><tspan x="17">inserthetong(Hetong): void</tspan><tspan x="17" dy="17">findhetong(String): Hetong</tspan><tspan x="17" dy="17">updatehetong(Hetong): void</tspan><tspan x="17" dy="17">deletehetong(String): void</tspan></text>
<polyline class="po" points="9.5,63.5 9.5,80.5 9.5,97.5 9.5,114.5"/></g>

<g id="Hetong" transform="translate(1195,4668)"><rect class="b" width="170" height="435"/><path class="l" d="M0,28H170M0,410H170"/><circle class="ic" cx="55.5" cy="14" r="8.5"/><text class="il" x="55.5" y="18.3">C</text><text x="73.5" y="19">Hetong</text>
<text y="46"><tspan x="17">zuke: String</tspan><tspan x="17" dy="17">house_id: String</tspan><tspan x="17" dy="17">todate: String</tspan><tspan x="17" dy="17">chuzu_idcard: String</tspan><tspan x="17" dy="17">zuke_idcard: String</tspan><tspan x="17" dy="17">id: Integer</tspan><tspan x="17" dy="17">fromdate: String</tspan><tspan x="17" dy="17">address: String</tspan><tspan x="17" dy="17">chuzu: String</tspan><tspan x="17" dy="17">price: double</tspan><tspan x="17" dy="17">payday: Integer</tspan><tspan x="17" dy="17">chuzu_idcard: String</tspan><tspan x="17" dy="17">zuke_idcard: String</tspan><tspan x="17" dy="17">zuke: String</tspan><tspan x="17" dy="17">price: double</tspan><tspan x="17" dy="17">house_id: String</tspan><tspan x="17" dy="17">address: String</tspan><tspan x="17" dy="17">payday: Integer</tspan><tspan x="17" dy="17">id: Integer</tspan><tspan x="17" dy="17">chuzu: String</tspan><tspan x="17" dy="17">todate: String</tspan><tspan x="17" dy="17">fromdate: String</tspan></text>
<polyline class="pp" points="9.5,41.5 9.5,58.5 9.5,75.5 9.5,92.5 9.5,109.5 9.5,126.5 9.5,143.5 9.5,160.5 9.5,177.5 9.5,194.5 9.5,211.5"/>
<text x="17" y="428">Hetong():</text>
<polyline class="po" points="9.5,423.5 9.5,423.5"/></g>

<g id="HetongServiceImpl" transform="translate(156,4790)"><rect class="b" width="225" height="129"/><path class="l" d="M0,28H225M0,36H225"/><circle class="ic" cx="41.9" cy="14" r="8.5"/><text class="il" x="41.9" y="18.3">C</text><text x="59.9" y="19">HetongServiceImpl</text>
<text y="54"><tspan x="17">HetongServiceImpl():</tspan><tspan x="17" dy="17">findhetong(String): Hetong</tspan><tspan x="17" dy="17">deletehetong(String): void</tspan><tspan x="17" dy="17">updatehetong(Hetong): void</tspan><tspan x="17" dy="17">inserthetong(Hetong): void</tspan></text>
<polyline class="po" points="9.5,49.5 9.5,66.5 9.5,83.5 9.5,100.5 9.5,117.5"/></g>

<g id="CheckoutService" transform="translate(711,4913)"><rect class="b" width="260" height="109"/><path class="l" d="M0,42H260M0,50H260"/><circle class="ic" cx="67.2" cy="21.5" r="8.5"/><text class="il" x="67.2" y="25.8">I</text><text class="st" x="144" y="17.5">«interface»</text><text class="nm" x="144" y="33">CheckoutService</text>
<text y="68"><tspan x="17">insertcheckout(Checkout): void</tspan><tspan x="17" dy="17">getallcheckout(): List&lt;Checkout&gt;</tspan><tspan x="17" dy="17">deletecheckout(Integer): void</tspan></text>
<polyline class="po" points="9.5,63.5 9.5,80.5 9.5,97.5"/></g>

<g id="CheckoutController" transform="translate(41,4954)"><rect class="b" width="454" height="129"/><path class="l" d="M0,28H454M0,36H454"/><circle class="ic" cx="155.4" cy="14" r="8.5"/><text class="il" x="155.4" y="18.3">C</text><text x="173.4" y="19">CheckoutController</text>
<text y="54"><tspan x="17">CheckoutController():</tspan><tspan x="17" dy="17">deletecheckout(Integer): String</tspan><tspan x="17" dy="17">getmycheckout(Model, HttpSession, Integer, Integer): String</tspan><tspan x="17" dy="17">getallcheckout(Model, Integer, Integer): String</tspan><tspan x="17" dy="17">admindeletecheckout(Integer): String</tspan></text>
<polyline class="po" points="9.5,49.5 9.5,66.5 9.5,83.5 9.5,100.5 9.5,117.5"/></g>

<g id="HetongService" transform="translate(728,5058)"><rect class="b" width="226" height="126"/><path class="l" d="M0,42H226M0,50H226"/><circle class="ic" cx="57.7" cy="21.5" r="8.5"/><text class="il" x="57.7" y="25.8">I</text><text class="st" x="127" y="17.5">«interface»</text><text class="nm" x="127" y="33">HetongService</text>
<text y="68"><tspan x="17">findhetong(String): Hetong</tspan><tspan x="17" dy="17">deletehetong(String): void</tspan><tspan x="17" dy="17">updatehetong(Hetong): void</tspan><tspan x="17" dy="17">inserthetong(Hetong): void</tspan></text>
<polyline class="po" points="9.5,63.5 9.5,80.5 9.5,97.5 9.5,114.5"/></g>

<g id="HetongController" transform="translate(124,5118)"><rect class="b" width="289" height="163"/><path class="l" d="M0,28H289M0,36H289"/><circle class="ic" cx="80.5" cy="14" r="8.5"/><text class="il" x="80.5" y="18.3">C</text><text x="98.5" y="19">HetongController</text>
<text y="54"><tspan x="17">HetongController():</tspan><tspan x="17" dy="17">seehetong(String, Model): String</tspan><tspan x="17" dy="17">deletehetong(String, Model): String</tspan><tspan x="17" dy="17">zukeseehetong(String, Model): String</tspan><tspan x="17" dy="17">changehetong(Hetong): String</tspan><tspan x="17" dy="17">inserthetong(Model, Hetong): String</tspan><tspan x="17" dy="17">updatehetong(String, Model): String</tspan></text>
<polyline class="po" points="9.5,49.5 9.5,66.5 9.5,83.5 9.5,100.5 9.5,117.5 9.5,134.5 9.5,151.5"/></g>

<g id="ZulistMapper" transform="translate(699,5298)"><rect class="b" width="285" height="160"/><path class="l" d="M0,42H285M0,50H285"/><circle class="ic" cx="92.6" cy="21.5" r="8.5"/><text class="il" x="92.6" y="25.8">I</text><text class="st" x="156.5" y="17.5">«interface»</text><text class="nm" x="156.5" y="33">ZulistMapper</text>
<text y="68"><tspan x="17">findzuuserlist(): List&lt;Zulist&gt;</tspan><tspan x="17" dy="17">deletezulist(String): void</tspan><tspan x="17" dy="17">findzulistbyuid(Integer): List&lt;Zulist&gt;</tspan><tspan x="17" dy="17">findzulist(String): Zulist</tspan><tspan x="17" dy="17">insertzulist(Zulist): void</tspan><tspan x="17" dy="17">findzukezulist(Integer): Zulist</tspan></text>
<polyline class="po" points="9.5,63.5 9.5,80.5 9.5,97.5 9.5,114.5 9.5,131.5 9.5,148.5"/></g>

<g id="Zulist" transform="translate(1199,5229)"><rect class="b" width="163" height="299"/><path class="l" d="M0,28H163M0,274H163"/><circle class="ic" cx="58" cy="14" r="8.5"/><text class="il" x="58" y="18.3">C</text><text x="76" y="19">Zulist</text>
<text y="46"><tspan x="17">zid: Integer</tspan><tspan x="17" dy="17">contract_id: Integer</tspan><tspan x="17" dy="17">price: Double</tspan><tspan x="17" dy="17">userlist_id: Integer</tspan><tspan x="17" dy="17">address: String</tspan><tspan x="17" dy="17">house_id: String</tspan><tspan x="17" dy="17">userlist: Userlist</tspan><tspan x="17" dy="17">userlist: Userlist</tspan><tspan x="17" dy="17">userlist_id: Integer</tspan><tspan x="17" dy="17">price: Double</tspan><tspan x="17" dy="17">house_id: String</tspan><tspan x="17" dy="17">address: String</tspan><tspan x="17" dy="17">contract_id: Integer</tspan><tspan x="17" dy="17">zid: Integer</tspan></text>
<polyline class="pp" points="9.5,41.5 9.5,58.5 9.5,75.5 9.5,92.5 9.5,109.5 9.5,126.5 9.5,143.5"/>
<text x="17" y="292">Zulist():</text>
<polyline class="po" points="9.5,287.5 9.5,287.5"/></g>

<g id="ZulistServiceImpl" transform="translate(126,5317)"><rect class="b" width="285" height="146"/><path class="l" d="M0,28H285M0,36H285"/><circle class="ic" cx="77.9" cy="14" r="8.5"/><text class="il" x="77.9" y="18.3">C</text><text x="95.9" y="19">ZulistServiceImpl</text>
<text y="54"><tspan x="17">ZulistServiceImpl():</tspan><tspan x="17" dy="17">findzulist(String): Zulist</tspan><tspan x="17" dy="17">deletezulist(String): void</tspan><tspan x="17" dy="17">findzulistbyuid(Integer): List&lt;Zulist&gt;</tspan><tspan x="17" dy="17">insertzulist(Zulist): void</tspan><tspan x="17" dy="17">findzuuserlist(): List&lt;Zulist&gt;</tspan></text>
<polyline class="po" points="9.5,49.5 9.5,66.5 9.5,83.5 9.5,100.5 9.5,117.5 9.5,134.5"/></g>

<g id="ZulistController" transform="translate(66,5499)"><rect class="b" width="406" height="112"/><path class="l" d="M0,28H406M0,36H406"/><circle class="ic" cx="144.9" cy="14" r="8.5"/><text class="il" x="144.9" y="18.3">C</text><text x="162.9" y="19">ZulistController</text>
<text y="54"><tspan x="17">ZulistController():</tspan><tspan x="17" dy="17">myzulist(Model, HttpSession, Integer, Integer): String</tspan><tspan x="17" dy="17">toaddhetong(Model, String): String</tspan><tspan x="17" dy="17">findzulist(Model, Integer, Integer): String</tspan></text>
<polyline class="po" points="9.5,49.5 9.5,66.5 9.5,83.5 9.5,100.5"/></g>

<g id="ZulistService" transform="translate(699,5493)"><rect class="b" width="285" height="143"/><path class="l" d="M0,42H285M0,50H285"/><circle class="ic" cx="93.1" cy="21.5" r="8.5"/><text class="il" x="93.1" y="25.8">I</text><text class="st" x="156.5" y="17.5">«interface»</text><text class="nm" x="156.5" y="33">ZulistService</text>
<text y="68"><tspan x="17">findzulist(String): Zulist</tspan><tspan x="17" dy="17">findzulistbyuid(Integer): List&lt;Zulist&gt;</tspan><tspan x="17" dy="17">deletezulist(String): void</tspan><tspan x="17" dy="17">findzuuserlist(): List&lt;Zulist&gt;</tspan><tspan x="17" dy="17">insertzulist(Zulist): void</tspan></text>
<polyline class="po" points="9.5,63.5 9.5,80.5 9.5,97.5 9.5,114.5 9.5,131.5"/></g>

<g id="WrongController" transform="translate(18,5645)"><rect class="b" width="501" height="231"/><path class="l" d="M0,28H501M0,36H501"/><circle class="ic" cx="189" cy="14" r="8.5"/><text class="il" x="189" y="18.3">C</text><text x="207" y="19">WrongController</text>
<text y="54"><tspan x="17">WrongController():</tspan><tspan x="17" dy="17">wronglist(Model, Integer, Integer): String</tspan><tspan x="17" dy="17">findmysolve(HttpSession, Model, QueryVo, Integer, Integer): String</tspan><tspan x="17" dy="17">addwrong(Integer, Model): String</tspan><tspan x="17" dy="17">mywronglist(Model, HttpSession, Integer, Integer): String</tspan><tspan x="17" dy="17">zukedeletesolve(Integer): String</tspan><tspan x="17" dy="17">gotosolve(Integer, Model): String</tspan><tspan x="17" dy="17">selectall(Model, QueryVo, Integer, Integer): String</tspan><tspan x="17" dy="17">showaddwrong(HttpSession, Model, Integer, Integer): String</tspan><tspan x="17" dy="17">deletesolve(Integer): String</tspan><tspan x="17" dy="17">insertwrong(Wrong, Model, HttpSession): String</tspan></text>
<polyline class="po" points="9.5,49.5 9.5,66.5 9.5,83.5 9.5,100.5 9.5,117.5 9.5,134.5 9.5,151.5 9.5,168.5 9.5,185.5 9.5,202.5 9.5,219.5"/></g>

<g id="PaidService" transform="translate(723,5800)"><rect class="b" width="236" height="143"/><path class="l" d="M0,42H236M0,50H236"/><circle class="ic" cx="73.2" cy="21.5" r="8.5"/><text class="il" x="73.2" y="25.8">I</text><text class="st" x="132" y="17.5">«interface»</text><text class="nm" x="132" y="33">PaidService</text>
<text y="68"><tspan x="17">selectall(QueryVo): List&lt;Paid&gt;</tspan><tspan x="17" dy="17">selectsum(QueryVo): Double</tspan><tspan x="17" dy="17">findzuuserlist(): List&lt;Zulist&gt;</tspan><tspan x="17" dy="17">findzukezulist(Integer): Zulist</tspan><tspan x="17" dy="17">deletepaid(Integer): void</tspan></text>
<polyline class="po" points="9.5,63.5 9.5,80.5 9.5,97.5 9.5,114.5 9.5,131.5"/></g>

<g id="SolveService" transform="translate(705,5978)"><rect class="b" width="272" height="177"/><path class="l" d="M0,42H272M0,50H272"/><circle class="ic" cx="87" cy="21.5" r="8.5"/><text class="il" x="87" y="25.8">I</text><text class="st" x="150" y="17.5">«interface»</text><text class="nm" x="150" y="33">SolveService</text>
<text y="68"><tspan x="17">findbyid(Integer): Wrong</tspan><tspan x="17" dy="17">deletesolve(Integer): void</tspan><tspan x="17" dy="17">selectall(QueryVo): List&lt;Solve&gt;</tspan><tspan x="17" dy="17">findwrong(QueryVo): List&lt;Wrong&gt;</tspan><tspan x="17" dy="17">insertwrong(Wrong): void</tspan><tspan x="17" dy="17">selectcount(QueryVo): Integer</tspan><tspan x="17" dy="17">gotosolve(Integer, Solve): void</tspan></text>
<polyline class="po" points="9.5,63.5 9.5,80.5 9.5,97.5 9.5,114.5 9.5,131.5 9.5,148.5 9.5,165.5"/></g>

<g id="PaidController" transform="translate(21,5911)"><rect class="b" width="496" height="231"/><path class="l" d="M0,28H496M0,36H496"/><circle class="ic" cx="194.5" cy="14" r="8.5"/><text class="il" x="194.5" y="18.3">C</text><text x="212.5" y="19">PaidController</text>
<text y="54"><tspan x="17">PaidController():</tspan><tspan x="17" dy="17">zukedeletepaid(Integer): String</tspan><tspan x="17" dy="17">addpaid(Integer, Model): String</tspan><tspan x="17" dy="17">gotopay(Integer, Model): String</tspan><tspan x="17" dy="17">topaidlist(Model, Integer, Integer): String</tspan><tspan x="17" dy="17">findmypaid(HttpSession, Model, QueryVo, Integer, Integer): String</tspan><tspan x="17" dy="17">deletepaid(Integer): String</tspan><tspan x="17" dy="17">showaddpaid(Model, Integer, Integer): String</tspan><tspan x="17" dy="17">mytopaidlist(Model, HttpSession, Integer, Integer): String</tspan><tspan x="17" dy="17">selectall(Model, QueryVo, Integer, Integer): String</tspan><tspan x="17" dy="17">inserttopaid(Topaid, Model): String</tspan></text>
<polyline class="po" points="9.5,49.5 9.5,66.5 9.5,83.5 9.5,100.5 9.5,117.5 9.5,134.5 9.5,151.5 9.5,168.5 9.5,185.5 9.5,202.5 9.5,219.5"/></g>

<g id="Paid" transform="translate(1201,5852)"><rect class="b" width="158" height="367"/><path class="l" d="M0,28H158M0,342H158"/><circle class="ic" cx="60.1" cy="14" r="8.5"/><text class="il" x="60.1" y="18.3">C</text><text x="78.1" y="19">Paid</text>
<text y="46"><tspan x="17">house_id: String</tspan><tspan x="17" dy="17">userlist_id: Integer</tspan><tspan x="17" dy="17">paydate: String</tspan><tspan x="17" dy="17">name: String</tspan><tspan x="17" dy="17">status: String</tspan><tspan x="17" dy="17">id: Integer</tspan><tspan x="17" dy="17">date: Date</tspan><tspan x="17" dy="17">address: String</tspan><tspan x="17" dy="17">price: Double</tspan><tspan x="17" dy="17">name: String</tspan><tspan x="17" dy="17">userlist_id: Integer</tspan><tspan x="17" dy="17">paydate: String</tspan><tspan x="17" dy="17">status: String</tspan><tspan x="17" dy="17">price: Double</tspan><tspan x="17" dy="17">house_id: String</tspan><tspan x="17" dy="17">address: String</tspan><tspan x="17" dy="17">id: Integer</tspan><tspan x="17" dy="17">date: Date</tspan></text>
<polyline class="pp" points="9.5,41.5 9.5,58.5 9.5,75.5 9.5,92.5 9.5,109.5 9.5,126.5 9.5,143.5 9.5,160.5 9.5,177.5"/>
<text x="17" y="360">Paid():</text>
<polyline class="po" points="9.5,355.5 9.5,355.5"/></g>

<g id="PaidServiceImpl" transform="translate(150,6178)"><rect class="b" width="236" height="146"/><path class="l" d="M0,28H236M0,36H236"/><circle class="ic" cx="58" cy="14" r="8.5"/><text class="il" x="58" y="18.3">C</text><text x="76" y="19">PaidServiceImpl</text>
<text y="54"><tspan x="17">PaidServiceImpl():</tspan><tspan x="17" dy="17">selectall(QueryVo): List&lt;Paid&gt;</tspan><tspan x="17" dy="17">selectsum(QueryVo): Double</tspan><tspan x="17" dy="17">deletepaid(Integer): void</tspan><tspan x="17" dy="17">findzuuserlist(): List&lt;Zulist&gt;</tspan><tspan x="17" dy="17">findzukezulist(Integer): Zulist</tspan></text>
<polyline class="po" points="9.5,49.5 9.5,66.5 9.5,83.5 9.5,100.5 9.5,117.5 9.5,134.5"/></g>

<g id="PaidMapper" transform="translate(723,6191)"><rect class="b" width="236" height="126"/><path class="l" d="M0,42H236M0,50H236"/><circle class="ic" cx="72.7" cy="21.5" r="8.5"/><text class="il" x="72.7" y="25.8">I</text><text class="st" x="132" y="17.5">«interface»</text><text class="nm" x="132" y="33">PaidMapper</text>
<text y="68"><tspan x="17">deletepaid(Integer): void</tspan><tspan x="17" dy="17">selectall(QueryVo): List&lt;Paid&gt;</tspan><tspan x="17" dy="17">selectsum(QueryVo): Double</tspan><tspan x="17" dy="17">insertpaid(Paid): void</tspan></text>
<polyline class="po" points="9.5,63.5 9.5,80.5 9.5,97.5 9.5,114.5"/></g>

<g id="TopaidServiceImpl" transform="translate(133,6360)"><rect class="b" width="271" height="129"/><path class="l" d="M0,28H271M0,36H271"/><circle class="ic" cx="66.7" cy="14" r="8.5"/><text class="il" x="66.7" y="18.3">C</text><text x="84.7" y="19">TopaidServiceImpl</text>
<text y="54"><tspan x="17">TopaidServiceImpl():</tspan><tspan x="17" dy="17">findtopaid(QueryVo): List&lt;Topaid&gt;</tspan><tspan x="17" dy="17">inserttopaid(Topaid): void</tspan><tspan x="17" dy="17">findbyid(Integer): Topaid</tspan><tspan x="17" dy="17">gotopay(Integer, Paid): void</tspan></text>
<polyline class="po" points="9.5,49.5 9.5,66.5 9.5,83.5 9.5,100.5 9.5,117.5"/></g>

<g id="TopaidMapper" transform="translate(707,6359)"><rect class="b" width="270" height="126"/><path class="l" d="M0,42H270M0,50H270"/><circle class="ic" cx="80.9" cy="21.5" r="8.5"/><text class="il" x="80.9" y="25.8">I</text><text class="st" x="149" y="17.5">«interface»</text><text class="nm" x="149" y="33">TopaidMapper</text>
<text y="68"><tspan x="17">findtopaid(QueryVo): List&lt;Topaid&gt;</tspan><tspan x="17" dy="17">inserttopaid(Topaid): void</tspan><tspan x="17" dy="17">findbyid(Integer): Topaid</tspan><tspan x="17" dy="17">deletetopaid(Integer): void</tspan></text>
<polyline class="po" points="9.5,63.5 9.5,80.5 9.5,97.5 9.5,114.5"/></g>

<g id="Topaid" transform="translate(1201,6254)"><rect class="b" width="158" height="333"/><path class="l" d="M0,28H158M0,308H158"/><circle class="ic" cx="51.3" cy="14" r="8.5"/><text class="il" x="51.3" y="18.3">C</text><text x="69.3" y="19">Topaid</text>
<text y="46"><tspan x="17">userlist_id: Integer</tspan><tspan x="17" dy="17">name: String</tspan><tspan x="17" dy="17">price: Double</tspan><tspan x="17" dy="17">id: Integer</tspan><tspan x="17" dy="17">date: Date</tspan><tspan x="17" dy="17">status: String</tspan><tspan x="17" dy="17">house_id: String</tspan><tspan x="17" dy="17">address: String</tspan><tspan x="17" dy="17">name: String</tspan><tspan x="17" dy="17">userlist_id: Integer</tspan><tspan x="17" dy="17">status: String</tspan><tspan x="17" dy="17">price: Double</tspan><tspan x="17" dy="17">house_id: String</tspan><tspan x="17" dy="17">address: String</tspan><tspan x="17" dy="17">id: Integer</tspan><tspan x="17" dy="17">date: Date</tspan></text>
<polyline class="pp" points="9.5,41.5 9.5,58.5 9.5,75.5 9.5,92.5 9.5,109.5 9.5,126.5 9.5,143.5 9.5,160.5"/>
<text x="17" y="326">Topaid():</text>
<polyline class="po" points="9.5,321.5 9.5,321.5"/></g>

<g id="TopaidService" transform="translate(707,6520)"><rect class="b" width="270" height="126"/><path class="l" d="M0,42H270M0,50H270"/><circle class="ic" cx="81.5" cy="21.5" r="8.5"/><text class="il" x="81.5" y="25.8">I</text><text class="st" x="149" y="17.5">«interface»</text><text class="nm" x="149" y="33">TopaidService</text>
<text y="68"><tspan x="17">inserttopaid(Topaid): void</tspan><tspan x="17" dy="17">gotopay(Integer, Paid): void</tspan><tspan x="17" dy="17">findbyid(Integer): Topaid</tspan><tspan x="17" dy="17">findtopaid(QueryVo): List&lt;Topaid&gt;</tspan></text>
<polyline class="po" points="9.5,63.5 9.5,80.5 9.5,97.5 9.5,114.5"/></g>

<g id="Solve" transform="translate(1201,6623)"><rect class="b" width="158" height="333"/><path class="l" d="M0,28H158M0,308H158"/><circle class="ic" cx="55.9" cy="14" r="8.5"/><text class="il" x="55.9" y="18.3">C</text><text x="73.9" y="19">Solve</text>
<text y="46"><tspan x="17">detail: String</tspan><tspan x="17" dy="17">userlist_id: Integer</tspan><tspan x="17" dy="17">status: String</tspan><tspan x="17" dy="17">address: String</tspan><tspan x="17" dy="17">date: Date</tspan><tspan x="17" dy="17">id: Integer</tspan><tspan x="17" dy="17">house_id: String</tspan><tspan x="17" dy="17">name: String</tspan><tspan x="17" dy="17">name: String</tspan><tspan x="17" dy="17">detail: String</tspan><tspan x="17" dy="17">userlist_id: Integer</tspan><tspan x="17" dy="17">status: String</tspan><tspan x="17" dy="17">house_id: String</tspan><tspan x="17" dy="17">address: String</tspan><tspan x="17" dy="17">id: Integer</tspan><tspan x="17" dy="17">date: Date</tspan></text>
<polyline class="pp" points="9.5,41.5 9.5,58.5 9.5,75.5 9.5,92.5 9.5,109.5 9.5,126.5 9.5,143.5 9.5,160.5"/>
<text x="17" y="326">Solve():</text>
<polyline class="po" points="9.5,321.5 9.5,321.5"/></g>

<g id="SolveServiceImpl" transform="translate(133,6699)"><rect class="b" width="271" height="180"/><path class="l" d="M0,28H271M0,36H271"/><circle class="ic" cx="71.3" cy="14" r="8.5"/><text class="il" x="71.3" y="18.3">C</text><text x="89.3" y="19">SolveServiceImpl</text>
<text y="54"><tspan x="17">SolveServiceImpl():</tspan><tspan x="17" dy="17">selectcount(QueryVo): Integer</tspan><tspan x="17" dy="17">findwrong(QueryVo): List&lt;Wrong&gt;</tspan><tspan x="17" dy="17">findbyid(Integer): Wrong</tspan><tspan x="17" dy="17">insertwrong(Wrong): void</tspan><tspan x="17" dy="17">selectall(QueryVo): List&lt;Solve&gt;</tspan><tspan x="17" dy="17">deletesolve(Integer): void</tspan><tspan x="17" dy="17">gotosolve(Integer, Solve): void</tspan></text>
<polyline class="po" points="9.5,49.5 9.5,66.5 9.5,83.5 9.5,100.5 9.5,117.5 9.5,134.5 9.5,151.5 9.5,168.5"/></g>

<g id="SolveMapper" transform="translate(717,6726)"><rect class="b" width="247" height="126"/><path class="l" d="M0,42H247M0,50H247"/><circle class="ic" cx="74" cy="21.5" r="8.5"/><text class="il" x="74" y="25.8">I</text><text class="st" x="137.5" y="17.5">«interface»</text><text class="nm" x="137.5" y="33">SolveMapper</text>
<text y="68"><tspan x="17">selectcount(QueryVo): Integer</tspan><tspan x="17" dy="17">deletesolve(Integer): void</tspan><tspan x="17" dy="17">selectall(QueryVo): List&lt;Solve&gt;</tspan><tspan x="17" dy="17">insertsolve(Solve): void</tspan></text>
<polyline class="po" points="9.5,63.5 9.5,80.5 9.5,97.5 9.5,114.5"/></g>

<g id="WrongMapper" transform="translate(705,6990)"><rect class="b" width="272" height="126"/><path class="l" d="M0,42H272M0,50H272"/><circle class="ic" cx="82.7" cy="21.5" r="8.5"/><text class="il" x="82.7" y="25.8">I</text><text class="st" x="150" y="17.5">«interface»</text><text class="nm" x="150" y="33">WrongMapper</text>
<text y="68"><tspan x="17">insertwrong(Wrong): void</tspan><tspan x="17" dy="17">findwrong(QueryVo): List&lt;Wrong&gt;</tspan><tspan x="17" dy="17">findbyid(Integer): Wrong</tspan><tspan x="17" dy="17">deletewrong(Integer): void</tspan></text>
<polyline class="po" points="9.5,63.5 9.5,80.5 9.5,97.5 9.5,114.5"/></g>

<g id="Wrong" transform="translate(1201,6990)"><rect class="b" width="158" height="333"/><path class="l" d="M0,28H158M0,308H158"/><circle class="ic" cx="52.1" cy="14" r="8.5"/><text class="il" x="52.1" y="18.3">C</text><text x="70.1" y="19">Wrong</text>
<text y="46"><tspan x="17">date: Date</tspan><tspan x="17" dy="17">userlist_id: Integer</tspan><tspan x="17" dy="17">detail: String</tspan><tspan x="17" dy="17">id: Integer</tspan><tspan x="17" dy="17">name: String</tspan><tspan x="17" dy="17">status: String</tspan><tspan x="17" dy="17">house_id: String</tspan><tspan x="17" dy="17">address: String</tspan><tspan x="17" dy="17">name: String</tspan><tspan x="17" dy="17">detail: String</tspan><tspan x="17" dy="17">userlist_id: Integer</tspan><tspan x="17" dy="17">status: String</tspan><tspan x="17" dy="17">house_id: String</tspan><tspan x="17" dy="17">address: String</tspan><tspan x="17" dy="17">id: Integer</tspan><tspan x="17" dy="17">date: Date</tspan></text>
<polyline class="pp" points="9.5,41.5 9.5,58.5 9.5,75.5 9.5,92.5 9.5,109.5 9.5,126.5 9.5,143.5 9.5,160.5"/>
<text x="17" y="326">Wrong():</text>
<polyline class="po" points="9.5,321.5 9.5,321.5"/></g>
</svg>
